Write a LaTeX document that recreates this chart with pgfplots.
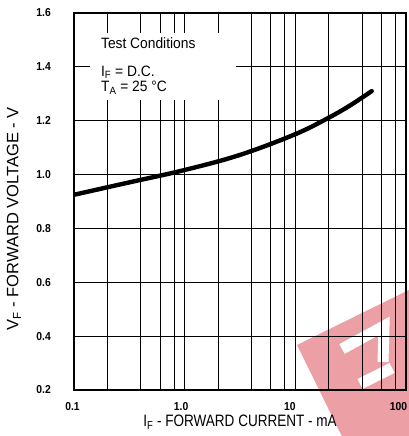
\documentclass[border=0pt]{standalone}
\usepackage{pgfplots}
\pgfplotsset{compat=1.18}
\usepackage{fontspec}
\setmainfont{Liberation Sans}
\newfontfamily\xlabfont{Liberation Sans}[FakeStretch=0.82]
\newfontfamily\ylabfont{Liberation Sans}[FakeStretch=1.0]
\newfontfamily\tickfont{Liberation Sans}[FakeStretch=0.9]
\newfontfamily\boxfont{Liberation Sans}[FakeStretch=0.92]
\definecolor{wmpink}{RGB}{236,160,166}

\begin{document}
\begin{tikzpicture}
% watermark (decoration)
\begin{scope}[shift={(223pt,45pt)}, rotate=26.2]
\fill[wmpink] (0,0) rectangle (300pt,-300pt);
\end{scope}
\draw[white, line width=11pt] (268pt,41pt) -- (310pt,64pt) -- (309pt,28pt);
\draw[white, line width=11pt] (286pt,6pt) -- (318pt,22pt);

\begin{axis}[
  at={(0,0)}, anchor=south west,
  scale only axis, width=332pt, height=377pt,
  xmode=log, xmin=0.1, xmax=100, ymin=0.2, ymax=1.6,
  xtick={0.1,1,10,100}, xticklabels={0.1,1.0,10,100},
  minor xtick={0.2,0.4,0.6,0.8,2,4,6,8,20,40,60,80},
  ytick={0.2,0.4,0.6,0.8,1.0,1.2,1.4,1.6},
  yticklabels={0.2,0.4,0.6,0.8,1.0,1.2,1.4,1.6},
  grid=both,
  major grid style={black, line width=0.8pt},
  minor grid style={black, line width=0.8pt},
  major tick length=0pt, minor tick length=0pt,
  axis line style={line width=2.4pt},
  tick label style={font=\tickfont\bfseries\fontsize{11.5}{12}\selectfont},
  xticklabel style={anchor=north, inner sep=0pt, yshift=-12pt, xshift={-1.5pt-2pt*\ticknum}},
  yticklabel style={anchor=east, inner sep=0pt, xshift=-23pt},
  xlabel={I\textsubscript{F} - FORWARD CURRENT - mA},
  ylabel={V\textsubscript{F} - FORWARD VOLTAGE - V},
  xlabel style={font=\xlabfont\fontsize{16.5}{18}\selectfont, at={(axis description cs:0.5,-0.085)}, anchor=center},
  ylabel style={font=\ylabfont\fontsize{16.5}{18}\selectfont, at={(axis description cs:-0.1807,0.4536)}, anchor=center},
]
\fill[white] (axis cs:0.139,1.277) rectangle (axis cs:2.91,1.526);
\node[anchor=base west, inner sep=0pt, font=\boxfont\fontsize{15}{16}\selectfont] at (axis cs:0.175,1.470) {Test Conditions};
\node[anchor=base west, inner sep=0pt, font=\boxfont\fontsize{15}{16}\selectfont] at (axis cs:0.175,1.366) {I\textsubscript{F} = D.C.};
\node[anchor=base west, inner sep=0pt, font=\boxfont\fontsize{15}{16}\selectfont] at (axis cs:0.175,1.307) {T\textsubscript{A} = 25 °C};

\addplot[black, line width=4.4pt, line cap=round, smooth, tension=0.6] coordinates {
  (0.1,0.925) (0.316,0.971) (1.0,1.017) (3.16,1.073)
  (10,1.150) (20,1.211) (31.6,1.258) (49,1.310)
};
\end{axis}
\pgfresetboundingbox
\path[use as bounding box] (-74pt,-46pt) rectangle (335pt,390pt);
\end{tikzpicture}
\end{document}
